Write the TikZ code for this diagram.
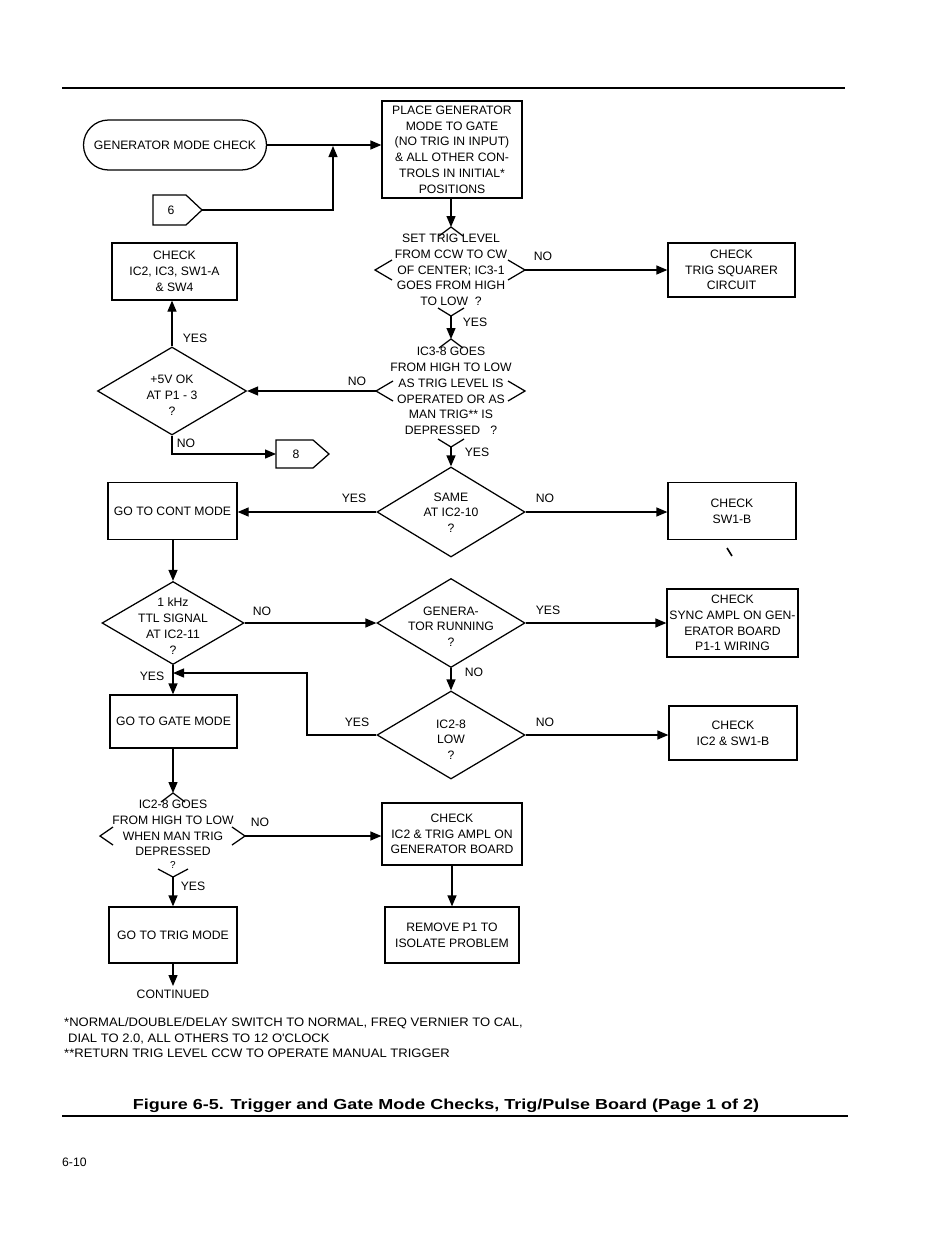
\documentclass[tikz,border=0pt]{standalone}
\usepackage{fontspec}
\setmainfont{Liberation Sans}
\newfontfamily\footfont[FakeStretch=1.06]{Liberation Sans}
\usepackage{graphicx}
\usetikzlibrary{arrows.meta,shapes.geometric,shapes.misc}
\begin{document}
\begin{tikzpicture}[x=1pt,y=-1pt,
  every node/.style={font=\fontsize{12.2}{15.75}\selectfont, inner sep=0pt, align=center},
  ln/.style={line width=1.25pt},
  arr/.style={ln,-{Triangle[length=11pt,width=9pt]}},
  box/.style={draw, ln},
  dia/.style={draw, ln, diamond, inner sep=0pt},
  term/.style={draw, ln, rounded rectangle, minimum width=183pt, minimum height=50pt},
  foot/.style={anchor=base west, font=\footfont\fontsize{12.3}{15}\selectfont},
]
\useasboundingbox (0,0) rectangle (950,1237);
\fill[white] (0,0) rectangle (950,1237);

% rules
\coordinate (r1a) at (62,88); \coordinate (r1b) at (845,88);
\draw[line width=1.5pt] (r1a) -- (r1b);
\coordinate (r2a) at (62,1116); \coordinate (r2b) at (848,1116);
\draw[line width=1.6pt] (r2a) -- (r2b);

% terminal and first box
\node[term] (T) at (175,145) {GENERATOR MODE CHECK};
\node[box, minimum width=140pt, minimum height=97pt] (B1) at (452,149.5)
  {PLACE GENERATOR\\MODE TO GATE\\(NO TRIG IN INPUT)\\\& ALL OTHER CON-\\TROLS IN INITIAL*\\POSITIONS};
\draw[arr] (T.east) -- (T.east -| B1.west);

% connector 6
\draw[ln] (153,195) -- (186,195) -- (202,210) -- (186,225) -- (153,225) -- cycle;
\node (c6) at (171,210) {6};
\coordinate (c6tip) at (202,210);
\coordinate (j1) at (333,146);
\draw[arr] (c6tip) -| (j1);

% decision 1 (partial diamond)
\coordinate (p1t) at (451,227);
\coordinate (p1l) at (375,270);
\coordinate (p1r) at (525,270);
\coordinate (p1b) at (451,316);
\draw[arr] (B1.south -| p1t) -- (p1t);
\draw[ln] (p1t) ++(-12,9) -- (p1t) -- ++(12,9);
\draw[ln] (p1l) ++(17,-10) -- (p1l) -- ++(17,10);
\draw[ln] (p1r) ++(-17,-10) -- (p1r) -- ++(-17,10);
\draw[ln] (p1b) ++(-13,-8) -- (p1b) -- ++(13,-8);
\node (d1txt) at (451,270) {SET TRIG LEVEL\\FROM CCW TO CW\\OF CENTER; IC3-1\\GOES FROM HIGH\\TO LOW\ \ ?};

\node[box, minimum width=127pt, minimum height=54pt] (B2) at (731.5,270) {CHECK\\TRIG SQUARER\\CIRCUIT};
\draw[arr] (p1r) -- (B2.west);
\node (n1) at (543,256) {NO};

% decision 2 (partial diamond)
\coordinate (p2t) at (451,339);
\coordinate (p2l) at (376,391);
\coordinate (p2r) at (525,391);
\coordinate (p2b) at (451,447);
\draw[arr] (p1b) -- (p2t);
\node (y1) at (475,322) {YES};
\draw[ln] (p2t) ++(-12,9) -- (p2t) -- ++(12,9);
\draw[ln] (p2l) ++(17,-10) -- (p2l) -- ++(17,10);
\draw[ln] (p2r) ++(-17,-10) -- (p2r) -- ++(-17,10);
\draw[ln] (p2b) ++(-13,-8) -- (p2b) -- ++(13,-8);
\node (d2txt) at (451,391) {IC3-8 GOES\\FROM HIGH TO LOW\\AS TRIG LEVEL IS\\OPERATED OR AS\\MAN TRIG** IS\\DEPRESSED\ \ \ ?};

% +5V decision
\node[dia, minimum width=149pt, minimum height=88pt] (D0) at (172,391) {};
\node (d0txt) at (172,395) {+5V OK\\AT P1 - 3\\?};
\draw[arr] (p2l) -- (D0.east);
\node (n2) at (357,381) {NO};
\node[box, minimum width=125pt, minimum height=57pt] (B3) at (174.5,271.5) {CHECK\\IC2, IC3, SW1-A\\\& SW4};
\draw[arr] (D0.north) -- (D0.north |- B3.south);
\node (y2) at (195,338) {YES};

% connector 8
\draw[ln] (276,440) -- (313,440) -- (329,454) -- (313,468) -- (276,468) -- cycle;
\node (c8) at (296,454) {8};
\coordinate (c8in) at (276,454);
\draw[arr] (D0.south) |- (c8in);
\node (n3) at (186,443) {NO};

% decision SAME
\node[dia, minimum width=148pt, minimum height=90pt] (D3) at (451,512) {};
\node (d3txt) at (451,512.5) {SAME\\AT IC2-10\\?};
\draw[arr] (p2b) -- (D3.north);
\node (y3) at (477,452) {YES};
\node[box, minimum width=129pt, minimum height=57pt] (B4) at (172.5,511) {GO TO CONT MODE};
\node[box, minimum width=128pt, minimum height=57pt] (B5) at (732,511) {CHECK\\SW1-B};
\draw[arr] (D3.west) -- (D3.west -| B4.east);
\node (y4) at (354,498) {YES};
\draw[arr] (D3.east) -- (D3.east -| B5.west);
\node (n4) at (545,498) {NO};
\coordinate (m1) at (727,548); \coordinate (m2) at (732,556);
\draw[line width=1.6pt] (m1) -- (m2);

% 1 kHz decision
\node[dia, minimum width=142pt, minimum height=83pt] (D4) at (173,623) {};
\node (d4txt) at (173,626) {1 kHz\\TTL SIGNAL\\AT IC2-11\\?};
\draw[arr] (B4.south -| D4.north) -- (D4.north);

% GENERATOR RUNNING decision
\node[dia, minimum width=148pt, minimum height=89pt] (D5) at (451,623) {};
\node (d5txt) at (451,626.5) {GENERA-\\TOR RUNNING\\?};
\draw[arr] (D4.east) -- (D4.east -| D5.west);
\node (n5) at (262,611) {NO};
\node[box, minimum width=131pt, minimum height=68pt] (B6) at (732.5,623) {CHECK\\SYNC AMPL ON GEN-\\ERATOR BOARD\\P1-1 WIRING};
\draw[arr] (D5.east) -- (D5.east -| B6.west);
\node (y5) at (548,610) {YES};

% IC2-8 LOW decision
\node[dia, minimum width=148pt, minimum height=88pt] (D6) at (451,735) {};
\node (d6txt) at (451,739.5) {IC2-8\\LOW\\?};
\draw[arr] (D5.south) -- (D6.north);
\node (n6) at (474,672) {NO};
\node[box, minimum width=128pt, minimum height=54pt] (B8) at (733,733) {CHECK\\IC2 \& SW1-B};
\draw[arr] (D6.east) -- (D6.east -| B8.west);
\node (n7) at (545,722) {NO};

\node[box, minimum width=127pt, minimum height=53pt] (B7) at (173.5,721.5) {GO TO GATE MODE};
\draw[arr] (D4.south) -- (D4.south |- B7.north);
\node (y6) at (152,676) {YES};
\coordinate (k1) at (307,735);
\coordinate (k2) at (173,673);
\draw[arr] (D6.west) -- (k1) |- (k2);
\node (y7) at (357,722) {YES};

% decision 7 (partial diamond)
\coordinate (p7t) at (173,793);
\coordinate (p7l) at (100,836);
\coordinate (p7r) at (245,836);
\coordinate (p7b) at (173,877);
\draw[arr] (B7.south -| p7t) -- (p7t);
\draw[ln] (p7t) ++(-12,9) -- (p7t) -- ++(12,9);
\draw[ln] (p7l) ++(13,-9) -- (p7l) -- ++(13,9);
\draw[ln] (p7r) ++(-13,-9) -- (p7r) -- ++(-13,9);
\draw[ln] (p7b) ++(-15,-8) -- (p7b) -- ++(15,-8);
\node (d7txt) at (173,828) {IC2-8 GOES\\FROM HIGH TO LOW\\WHEN MAN TRIG\\DEPRESSED};
\node[font=\fontsize{10}{12}\selectfont] (d7q) at (173,865) {?};

\node[box, minimum width=140pt, minimum height=62pt] (B9) at (452,834) {CHECK\\IC2 \& TRIG AMPL ON\\GENERATOR BOARD};
\draw[arr] (p7r) -- (p7r -| B9.west);
\node (n8) at (260,822) {NO};
\node[box, minimum width=134pt, minimum height=56pt] (B10) at (452,935) {REMOVE P1 TO\\ISOLATE PROBLEM};
\draw[arr] (B9.south) -- (B10.north);
\node[box, minimum width=128pt, minimum height=56pt] (B11) at (173,935) {GO TO TRIG MODE};
\draw[arr] (p7b) -- (B11.north);
\node (y8) at (193,886) {YES};
\coordinate (cont) at (173,986);
\draw[arr] (B11.south) -- (cont);
\node (contTxt) at (173,994) {CONTINUED};

% footnotes
\node[foot] (f1) at (64,1026) {*NORMAL/DOUBLE/DELAY SWITCH TO NORMAL, FREQ VERNIER TO CAL,};
\node[foot] (f2) at (68,1042) {DIAL TO 2.0, ALL OTHERS TO 12 O'CLOCK};
\node[foot] (f3) at (64,1057) {**RETURN TRIG LEVEL CCW TO OPERATE MANUAL TRIGGER};

% caption
\node[anchor=base] (cap) at (446,1109) {\resizebox{626pt}{10.5pt}{\bfseries Figure 6-5. Trigger and Gate Mode Checks, Trig/Pulse Board (Page 1 of 2)}};

% page number
\node[anchor=base west] (pg) at (62,1166) {6-10};
\end{tikzpicture}
\end{document}
